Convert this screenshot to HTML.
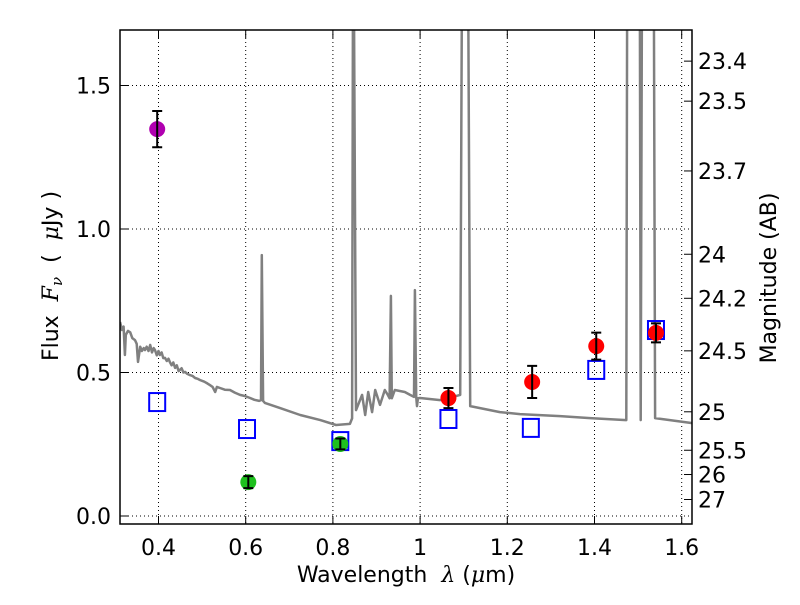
<!DOCTYPE html>
<html><head><meta charset="utf-8"><style>
body{margin:0;background:#fff}
svg text{font-family:"DejaVu Sans","Liberation Sans",sans-serif;fill:#000}
</style></head><body>
<svg id="chart" width="800" height="600" xmlns="http://www.w3.org/2000/svg">
<defs><clipPath id="clip"><rect x="120" y="30" width="572" height="494"/></clipPath></defs>
<rect x="0" y="0" width="800" height="600" fill="#fff"/>
<g id="grid"></g>
<g id="spec" clip-path="url(#clip)"></g>
<g id="marks" clip-path="url(#clip)"></g>
<rect x="120" y="30" width="572" height="494" fill="none" stroke="#000" stroke-width="1.5"/>
<g id="axes"></g>
<text x="406" y="582" text-anchor="middle" font-size="22" xml:space="preserve">Wavelength  <tspan font-style="italic" font-family="DejaVu Serif,serif">λ</tspan> (<tspan font-style="italic" font-family="DejaVu Serif,serif">μ</tspan>m)</text>
<text transform="translate(58,276) rotate(-90)" text-anchor="middle" font-size="22" xml:space="preserve">Flux  <tspan font-style="italic" font-family="DejaVu Serif,serif">F<tspan font-size="15" dy="4">ν</tspan></tspan><tspan dy="-4">  (  </tspan><tspan font-style="italic" font-family="DejaVu Serif,serif">μ</tspan>Jy )</text>
<text transform="translate(776,278) rotate(-90)" text-anchor="middle" font-size="22">Magnitude (AB)</text>
</svg>
<script>
const specLam=[0.312,0.316,0.320,0.323,0.325,0.330,0.335,0.340,0.346,0.350,0.353,0.358,0.362,0.366,0.369,0.373,0.377,0.381,0.385,0.389,0.392,0.396,0.400,0.403,0.407,0.411,0.415,0.419,0.423,0.426,0.430,0.434,0.438,0.442,0.446,0.449,0.453,0.457,0.461,0.466,0.472,0.478,0.484,0.490,0.495,0.505,0.512,0.518,0.524,0.530,0.534,0.541,0.552,0.564,0.575,0.587,0.598,0.610,0.620,0.631,0.635,0.637,0.640,0.644,0.679,0.725,0.771,0.807,0.839,0.844,0.846,0.848,0.853,0.867,0.874,0.881,0.890,0.897,0.908,0.919,0.926,0.930,0.933,0.935,0.942,0.965,0.977,0.986,0.988,0.991,0.993,0.995,1.000,1.046,1.092,1.096,1.110,1.115,1.183,1.229,1.321,1.390,1.473,1.475,1.504,1.506,1.509,1.536,1.539,1.622,1.640];
const specFlux=[0.676,0.648,0.660,0.561,0.631,0.645,0.640,0.620,0.613,0.600,0.537,0.590,0.575,0.585,0.578,0.590,0.575,0.596,0.570,0.585,0.578,0.560,0.575,0.561,0.570,0.550,0.551,0.540,0.548,0.537,0.525,0.535,0.516,0.525,0.505,0.509,0.515,0.500,0.502,0.495,0.491,0.488,0.481,0.478,0.474,0.468,0.462,0.456,0.450,0.432,0.450,0.446,0.440,0.439,0.430,0.422,0.418,0.411,0.405,0.401,0.404,0.909,0.401,0.394,0.376,0.352,0.334,0.317,0.321,0.34,1.9,1.9,0.369,0.422,0.352,0.432,0.362,0.439,0.387,0.439,0.422,0.41,0.767,0.41,0.439,0.432,0.422,0.415,0.787,0.415,0.383,0.41,0.411,0.404,0.422,1.9,1.9,0.383,0.362,0.355,0.348,0.341,0.334,1.9,1.9,0.334,1.9,1.9,0.341,0.324,0.322];
const boxLam=[0.397,0.603,0.817,1.065,1.254,1.404,1.541];
const boxFlux=[0.397,0.303,0.261,0.338,0.307,0.509,0.648];
const ptLam=[0.397,0.606,0.817,1.065,1.257,1.404,1.541];
const ptFlux=[1.348,0.118,0.251,0.411,0.467,0.592,0.638];
const ptErr=[0.063,0.021,0.019,0.035,0.056,0.047,0.033];
const ptColor=['#b000b0','#1ec01e','#1ec01e','#ff0000','#ff0000','#ff0000','#ff0000'];
const xTicks=[0.4,0.6,0.8,1.0,1.2,1.4,1.6];
const xTickLabels=['0.4','0.6','0.8','1','1.2','1.4','1.6'];
const yTicks=[0,0.5,1.0,1.5];
const yTickLabels=['0.0','0.5','1.0','1.5'];
const magTicks=[23.4,23.5,23.7,24,24.2,24.5,25,25.5,26,27];
const magLabels=['23.4','23.5','23.7','24','24.2','24.5','25','25.5','26','27'];
const NS='http://www.w3.org/2000/svg';
const X=l=>158.5+(l-0.4)*436;
const Y=f=>516-f*287;
function mk(tag,attrs,parent){const e=document.createElementNS(NS,tag);for(const k in attrs)e.setAttribute(k,attrs[k]);parent.appendChild(e);return e;}
const grid=document.getElementById('grid'),axes=document.getElementById('axes'),spec=document.getElementById('spec'),marks=document.getElementById('marks');
xTicks.forEach((t,i)=>{
 const g=mk('line',{x1:X(t),x2:X(t),y1:30,y2:524,stroke:'#000','stroke-width':1,'stroke-dasharray':'1,3'},grid);
 
 
 mk('line',{x1:X(t),x2:X(t),y1:524,y2:516,stroke:'#000'},axes);
 mk('line',{x1:X(t),x2:X(t),y1:30,y2:38,stroke:'#000'},axes);
 const tx=mk('text',{x:X(t),y:555,'text-anchor':'middle','font-size':22},axes);
 tx.textContent=xTickLabels[i];
 
 
});
yTicks.forEach((t,i)=>{
 const g=mk('line',{x1:120,x2:692,y1:Y(t),y2:Y(t),stroke:'#000','stroke-width':1,'stroke-dasharray':'1,3'},grid);
 
 
 mk('line',{x1:120,x2:128,y1:Y(t),y2:Y(t),stroke:'#000'},axes);
 const tx=mk('text',{x:111,y:Y(t)+8,'text-anchor':'end','font-size':22},axes);
 tx.textContent=yTickLabels[i];
 
 
});
magTicks.forEach((m,i)=>{
 const f=Math.pow(10,(23.9-m)/2.5);const y=Y(f);
 mk('line',{x1:684,x2:692,y1:y,y2:y,stroke:'#000'},axes);
 const tx=mk('text',{x:698,y:y+8,'font-size':22},axes);
 tx.textContent=magLabels[i];
 
 
});
const p=mk('polyline',{points:specLam.map((l,i)=>X(l).toFixed(1)+','+Y(specFlux[i]).toFixed(1)).join(' '),fill:'none',stroke:'#808080','stroke-width':2.5,'stroke-linejoin':'round'},spec);


boxLam.forEach((l,i)=>{
 const r=mk('rect',{x:X(l)-8,y:Y(boxFlux[i])-9,width:16,height:18,fill:'none',stroke:'#0000ff','stroke-width':2},marks);
 
 
});
ptLam.forEach((l,i)=>{
 const x=X(l),y=Y(ptFlux[i]);
 const c=mk('circle',{cx:x,cy:y,r:8,fill:ptColor[i]},marks);
 
 
 const y1=Y(ptFlux[i]+ptErr[i]),y2=Y(ptFlux[i]-ptErr[i]);
 const e=mk('path',{d:`M${x},${y1}V${y2}M${x-5},${y1}H${x+5}M${x-5},${y2}H${x+5}`,stroke:'#000','stroke-width':2,fill:'none'},marks);
 
 
});
</script>
</body></html>
